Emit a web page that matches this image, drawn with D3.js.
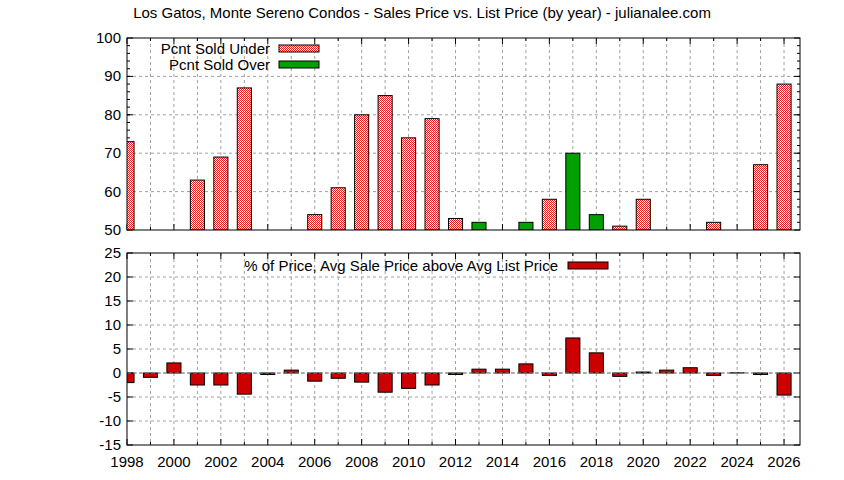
<!DOCTYPE html>
<html lang="en">
<head>
<meta charset="UTF-8">
<title>Sales Price vs. List Price</title>
<style>
body { margin: 0; background: #fff; }
text { font-family: "Liberation Sans", Arial, sans-serif; }
.grid line { stroke: #a0a0a0; stroke-dasharray: 3,3; stroke-width: 1; }
</style>
</head>
<body>
<svg width="844" height="480"></svg>
<script src="https://d3js.org/d3.v7.min.js"></script>
<script>
// data
const underYears  = [1998, 2001, 2002, 2003, 2006, 2007, 2008, 2009, 2010, 2011, 2012, 2016, 2019, 2020, 2023, 2025, 2026];
const underValues = [73, 63, 69, 87, 54, 61, 80, 85, 74, 79, 53, 58, 51, 58, 52, 67, 88];
const overYears   = [2013, 2015, 2017, 2018];
const overValues  = [52, 52, 70, 54];
const diffYears   = d3.range(1998, 2027);
const diffValues  = [-2, -0.9, 2.1, -2.5, -2.5, -4.4, -0.3, 0.6, -1.7, -1.1, -1.9, -4, -3.2, -2.5, -0.3, 0.8, 0.8, 1.9, -0.5, 7.3, 4.2, -0.7, 0.2, 0.6, 1.1, -0.5, 0.05, -0.3, -4.6];
const xTicks = d3.range(1998, 2027, 2);

const svg = d3.select("svg");
const left = 127, right = 800;

const defs = svg.append("defs");
const pat = defs.append("pattern").attr("id", "check")
    .attr("width", 2).attr("height", 2).attr("patternUnits", "userSpaceOnUse");
pat.append("rect").attr("width", 2).attr("height", 2).attr("fill", "#fff");
pat.append("rect").attr("width", 1).attr("height", 1).attr("fill", "#e02020");
pat.append("rect").attr("x", 1).attr("y", 1).attr("width", 1).attr("height", 1).attr("fill", "#e02020");
defs.append("clipPath").attr("id", "clipTop").append("rect")
    .attr("x", left).attr("y", 38).attr("width", right - left).attr("height", 192);
defs.append("clipPath").attr("id", "clipBot").append("rect")
    .attr("x", left).attr("y", 253).attr("width", right - left).attr("height", 192);

const x = d3.scaleLinear().domain([1998, 2026.68]).range([left, right]);
const yTop = d3.scaleLinear().domain([50, 100]).range([230, 38]);
const yBot = d3.scaleLinear().domain([-15, 25]).range([445, 253]);
const bw = x(1998.6) - x(1998);

svg.append("text").attr("x", 422).attr("y", 18).attr("text-anchor", "middle")
    .attr("font-size", 15).text("Los Gatos, Monte Sereno Condos - Sales Price vs. List Price (by year) - julianalee.com");

function panel(y, yTicks, yMinor, clipId) {
    const g = svg.append("g");
    const grid = g.append("g").attr("class", "grid");
    grid.selectAll(".v").data(d3.range(1999, 2027)).join("line")
        .attr("x1", d => x(d)).attr("x2", d => x(d))
        .attr("y1", y.range()[1]).attr("y2", y.range()[0]);
    grid.selectAll(".h").data(yTicks.slice(1, -1)).join("line")
        .attr("x1", left).attr("x2", right)
        .attr("y1", d => y(d)).attr("y2", d => y(d));
    // inward ticks
    const t = g.append("g").attr("stroke", "#000");
    const [y0, y1] = y.range();
    t.selectAll(".yt").data(yTicks).join("line")
        .attr("x1", left).attr("x2", left + 6).attr("y1", d => y(d)).attr("y2", d => y(d));
    t.selectAll(".yt2").data(yTicks).join("line")
        .attr("x1", right).attr("x2", right - 6).attr("y1", d => y(d)).attr("y2", d => y(d));
    t.selectAll(".ym").data(yMinor).join("line")
        .attr("x1", left).attr("x2", left + 3).attr("y1", d => y(d)).attr("y2", d => y(d));
    t.selectAll(".ym2").data(yMinor).join("line")
        .attr("x1", right).attr("x2", right - 3).attr("y1", d => y(d)).attr("y2", d => y(d));
    t.selectAll(".xt").data(d3.range(1998, 2027)).join("line")
        .attr("x1", d => x(d)).attr("x2", d => x(d))
        .attr("y1", y0).attr("y2", d => y0 - (d % 2 ? 3 : 6));
    t.selectAll(".xt2").data(d3.range(1998, 2027)).join("line")
        .attr("x1", d => x(d)).attr("x2", d => x(d))
        .attr("y1", y1).attr("y2", d => y1 + (d % 2 ? 3 : 6));
    g.selectAll(".yl").data(yTicks).join("text")
        .attr("x", left - 6).attr("y", d => y(d) + 5).attr("text-anchor", "end")
        .attr("font-size", 15).text(d => d);
    const bars = g.append("g").attr("clip-path", `url(#${clipId})`);
    return { g, bars };
}

const upper = panel(yTop, d3.range(50, 101, 10), d3.range(52, 100, 2), "clipTop");
upper.bars.selectAll(".u").data(underYears).join("rect")
    .attr("x", d => x(d) - bw / 2).attr("width", bw)
    .attr("y", (d, i) => yTop(underValues[i])).attr("height", (d, i) => yTop(50) - yTop(underValues[i]))
    .attr("fill", "url(#check)").attr("stroke", "#000");
upper.bars.selectAll(".o").data(overYears).join("rect")
    .attr("x", d => x(d) - bw / 2).attr("width", bw)
    .attr("y", (d, i) => yTop(overValues[i])).attr("height", (d, i) => yTop(50) - yTop(overValues[i]))
    .attr("fill", "#00a000").attr("stroke", "#000");
upper.g.append("rect").attr("x", left).attr("y", 38).attr("width", right - left).attr("height", 192)
    .attr("fill", "none").attr("stroke", "#000");
const leg = [["Pcnt Sold Under", "url(#check)"], ["Pcnt Sold Over", "#00a000"]];
leg.forEach((l, i) => {
    upper.g.append("text").attr("x", 270).attr("y", 54 + i * 16).attr("text-anchor", "end")
        .attr("font-size", 15).text(l[0]);
    upper.g.append("rect").attr("x", 279).attr("y", 45 + i * 16).attr("width", 40).attr("height", 7)
        .attr("fill", l[1]).attr("stroke", "#000");
});

const lower = panel(yBot, d3.range(-15, 26, 5), [], "clipBot");
lower.g.append("line").attr("x1", left).attr("x2", right).attr("y1", yBot(0)).attr("y2", yBot(0))
    .attr("stroke", "#888").attr("stroke-dasharray", "4,2");
lower.bars.selectAll(".d").data(diffYears).join("rect")
    .attr("x", d => x(d) - bw / 2).attr("width", bw)
    .attr("y", (d, i) => yBot(Math.max(0, diffValues[i])))
    .attr("height", (d, i) => Math.abs(yBot(diffValues[i]) - yBot(0)))
    .attr("fill", "#cc0000").attr("stroke", "#000");
lower.g.append("rect").attr("x", left).attr("y", 253).attr("width", right - left).attr("height", 192)
    .attr("fill", "none").attr("stroke", "#000");
lower.g.append("text").attr("x", 558).attr("y", 271).attr("text-anchor", "end")
    .attr("font-size", 15).text("% of Price, Avg Sale Price above Avg List Price");
lower.g.append("rect").attr("x", 568).attr("y", 262).attr("width", 40).attr("height", 7)
    .attr("fill", "#cc0000").attr("stroke", "#000");
lower.g.selectAll(".xl").data(xTicks).join("text")
    .attr("x", d => x(d)).attr("y", 467).attr("text-anchor", "middle")
    .attr("font-size", 15).text(d => d);
</script>
</body>
</html>
